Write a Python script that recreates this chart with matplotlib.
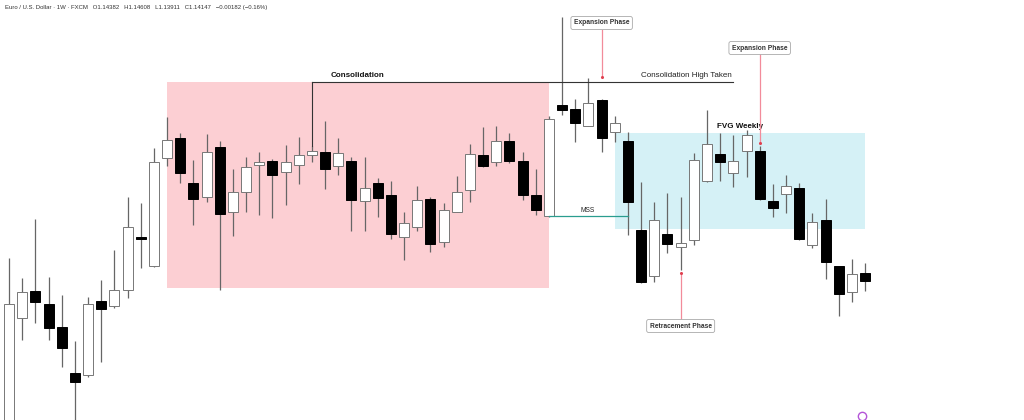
import numpy as np
import matplotlib.pyplot as plt
from matplotlib.patches import Rectangle

plt.rcParams['font.family'] = ['Liberation Sans', 'DejaVu Sans']

o_rows = [440, 318, 291, 304, 327, 373, 375, 301, 306, 290, 237, 266, 158, 138, 183, 197, 147,
          212, 192, 165, 161, 172, 165, 155, 152, 166, 161, 201, 183, 195, 237, 227, 199, 242,
          212, 190, 155, 162, 141, 161, 195, 216, 105, 109, 126, 100, 132, 141, 230, 276, 234,
          247, 240, 181, 154, 173, 151, 151, 201, 194, 188, 245, 220, 266, 292, 273]
h_rows = [258, 278, 219, 277, 295, 341, 297, 280, 250, 197, 203, 148, 117, 133, 160, 134, 141,
          169, 157, 152, 159, 145, 137, 146, 121, 138, 157, 157, 178, 181, 212, 186, 197, 203,
          176, 144, 127, 126, 133, 152, 169, 116, 17, 99, 78, 99, 116, 132, 182, 202, 193,
          197, 153, 110, 133, 135, 130, 146, 184, 175, 183, 213, 199, 266, 259, 263]
l_rows = [460, 340, 323, 340, 367, 430, 377, 362, 308, 298, 268, 267, 166, 183, 225, 202, 290,
          236, 212, 215, 218, 205, 184, 162, 189, 175, 231, 231, 217, 239, 260, 231, 252, 247,
          212, 202, 167, 166, 163, 200, 215, 217, 115, 142, 126, 152, 142, 235, 283, 282, 253,
          270, 245, 182, 181, 187, 177, 200, 217, 213, 240, 248, 279, 316, 302, 291]
c_rows = [304, 292, 302, 328, 348, 382, 304, 309, 290, 227, 239, 162, 140, 173, 199, 152, 214,
          192, 167, 162, 175, 162, 155, 151, 169, 153, 200, 188, 198, 234, 223, 200, 244, 210,
          192, 154, 166, 141, 161, 195, 210, 119, 110, 123, 103, 138, 123, 202, 282, 220, 244,
          243, 160, 144, 162, 161, 135, 199, 208, 186, 239, 222, 262, 294, 274, 281]

H = 420
o = H - np.array(o_rows)
hi = H - np.array(h_rows)
lo = H - np.array(l_rows)
c = H - np.array(c_rows)
x = np.arange(len(o))

cons_top, cons_bot = H - 82, H - 288
fvg_top, fvg_bot = H - 133, H - 229

header = "Euro / U.S. Dollar \u00b7 1W \u00b7 FXCM   O1.14382   H1.14608   L1.13911   C1.14147   \u22120.00182 (\u22120.16%)"

fig = plt.figure(figsize=(10.24, 4.2), dpi=100)
ax = fig.add_axes([0, 0, 1, 1])
ax.set_xlim(-0.683, 77.07)
ax.set_ylim(0, H)
ax.axis('off')

# zones
ax.add_patch(Rectangle((12, cons_bot), 29, cons_top - cons_bot, color='#fccfd3', lw=0, zorder=0))
ax.add_patch(Rectangle((46, fvg_bot), 19, fvg_top - fvg_bot, color='#d5f1f6', lw=0, zorder=0))

# candles
up = c >= o
ax.vlines(x, lo, hi, color='#666666', lw=0.9, zorder=2)
bottom = np.minimum(o, c)
height = np.maximum(np.abs(c - o), 1.5)
ax.bar(x[up], height[up], bottom=bottom[up], width=0.76, color='white',
       edgecolor='#777777', linewidth=0.7, zorder=3)
ax.bar(x[~up], height[~up], bottom=bottom[~up], width=0.76, color='black',
       edgecolor='black', linewidth=0.7, zorder=3)

# consolidation bracket / high taken
ax.plot([23, 23], [hi[23], cons_top], color='#333333', lw=0.8, zorder=4)
ax.plot([23, 55], [cons_top, cons_top], color='#333333', lw=0.8, zorder=4)
ax.text(26.5, cons_top + 3, "Consolidation", fontsize=5.8, fontweight='bold',
        ha='center', va='bottom', color='#111111')
ax.text(54.9, cons_top + 3, "Consolidation High Taken", fontsize=5.8,
        ha='right', va='bottom', color='#222222')

# MSS
ax.plot([41, 47], [o[41], o[41]], color='#2a9d8f', lw=0.9, zorder=4)
ax.text(43.95, o[41] + 1.5, "MSS", fontsize=4.8, ha='center', va='bottom', color='#222222')

ax.text(55.5, fvg_top + 3, "FVG Weekly", fontsize=5.8, fontweight='bold',
        ha='center', va='bottom', color='#111111')

box = dict(boxstyle='round,pad=0.45,rounding_size=0.3', fc='white', ec='#aaaaaa', lw=0.6)
red = '#f28b9a'
# expansion 1
ax.plot([45, 45], [H - 30, H - 77], color=red, lw=0.9, zorder=4)
ax.plot(45, H - 77, 'o', color='#e0404f', ms=1.2, zorder=5)
ax.text(45, H - 23, "Expansion Phase", fontsize=4.8, fontweight='bold', ha='center',
        va='center', color='#333333', bbox=box, zorder=6)
# expansion 2
ax.plot([57, 57], [H - 54, H - 143], color=red, lw=0.9, zorder=4)
ax.plot(57, H - 143, 'o', color='#e0404f', ms=1.2, zorder=5)
ax.text(57, H - 48, "Expansion Phase", fontsize=4.8, fontweight='bold', ha='center',
        va='center', color='#333333', bbox=box, zorder=6)
# retracement
ax.plot([51, 51], [H - 320, H - 273], color=red, lw=0.9, zorder=4)
ax.plot(51, H - 273, 'o', color='#e0404f', ms=1.2, zorder=5)
ax.text(51, H - 326, "Retracement Phase", fontsize=4.8, fontweight='bold', ha='center',
        va='center', color='#333333', bbox=box, zorder=6)

ax.text(5 / 13.17 - 0.683, H - 7, header, fontsize=4.3, ha='left', va='center', color='#333333')

ax.plot(64.8, H - 416, 'o', ms=6, mfc='white', mec='#b455d8', mew=1.0, zorder=5)

fig.savefig("out.png", dpi=100)
